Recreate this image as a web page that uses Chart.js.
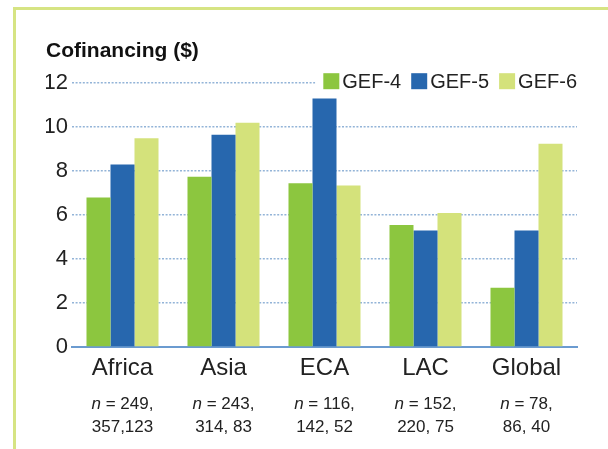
<!DOCTYPE html>
<html>
<head>
<meta charset="utf-8">
<script src="https://cdn.jsdelivr.net/npm/chart.js@4.4.0/dist/chart.umd.min.js"></script>
<style>
  html, body { margin: 0; padding: 0; background: #fff; }
  #wrap { position: relative; width: 608px; height: 449px; overflow: hidden; }
  #frame {
    position: absolute; left: 13px; top: 7px; right: -10px; bottom: -10px;
    border-top: 3px solid #d6e483; border-left: 3px solid #d6e483; background: #fff;
  }
  #chart { position: absolute; left: 0; top: 0; }
</style>
</head>
<body>
<div id="wrap">
  <div id="frame"></div>
  <canvas id="chart" width="608" height="449"></canvas>
</div>
<script>
// --- data ---
const regions = ['Africa', 'Asia', 'ECA', 'LAC', 'Global'];
const seriesNames = ['GEF-4', 'GEF-5', 'GEF-6'];
const gef4 = [6.8, 7.75, 7.45, 5.55, 2.7];
const gef5 = [8.3, 9.65, 11.3, 5.3, 5.3];
const gef6 = [9.5, 10.2, 7.35, 6.1, 9.25];
// sample sizes shown under each region (n = GEF-4, GEF-5, GEF-6)
const sampleLine1 = ['249,', '243,', '116,', '152,', '78,'];
const sampleLine2 = ['357,123', '314, 83', '142, 52', '220, 75', '86, 40'];
const yMin = 0, yMax = 12, yStep = 2;

const colors = ['#8cc63f', '#2767ae', '#d4e27b'];
const FONT = '"Liberation Sans", Arial, sans-serif';

// legend drawn inside the plot, with a white box that hides the top gridline
const legendBox = {
  id: 'legendBox',
  beforeDatasetsDraw(chart) {
    const { ctx, chartArea } = chart;
    ctx.save();
    ctx.font = '20px ' + FONT;
    ctx.textBaseline = 'middle';
    const y = chartArea.top - 2;
    const sq = 16, gap = 3, itemGap = 10;
    const items = chart.data.datasets.map(ds => ({
      text: ds.label, color: ds.backgroundColor, w: ctx.measureText(ds.label).width
    }));
    let total = 0;
    items.forEach((it, i) => { total += sq + gap + it.w + (i < items.length - 1 ? itemGap : 0); });
    let x = chartArea.right - total;
    ctx.fillStyle = '#fff';
    ctx.fillRect(x - 8, y - 12, total + 12, 24);
    items.forEach(it => {
      ctx.fillStyle = it.color;
      ctx.fillRect(x, y - sq / 2, sq, sq);
      ctx.fillStyle = '#222';
      ctx.textAlign = 'left';
      ctx.fillText(it.text, x + sq + gap, y + 1);
      x += sq + gap + it.w + itemGap;
    });
    ctx.restore();
  }
};

// "n = ..." lines under each category label
const sampleLabels = {
  id: 'sampleLabels',
  afterDraw(chart) {
    const { ctx, chartArea } = chart;
    const xs = chart.scales.x;
    ctx.save();
    ctx.fillStyle = '#222';
    ctx.textBaseline = 'alphabetic';
    ctx.textAlign = 'left';
    regions.forEach((r, i) => {
      const cx = xs.getPixelForValue(i);
      const y1 = chartArea.bottom + 61.5;
      const y2 = chartArea.bottom + 84.5;
      ctx.font = 'italic 17px ' + FONT;
      const wn = ctx.measureText('n').width;
      ctx.font = '17px ' + FONT;
      const rest = ' = ' + sampleLine1[i];
      const wr = ctx.measureText(rest).width;
      let x = cx - (wn + wr) / 2;
      ctx.font = 'italic 17px ' + FONT;
      ctx.fillText('n', x, y1);
      ctx.font = '17px ' + FONT;
      ctx.fillText(rest, x + wn, y1);
      ctx.textAlign = 'center';
      ctx.fillText(sampleLine2[i], cx, y2);
      ctx.textAlign = 'left';
    });
    ctx.restore();
  }
};

new Chart(document.getElementById('chart'), {
  type: 'bar',
  data: {
    labels: regions,
    datasets: [gef4, gef5, gef6].map((d, i) => ({
      label: seriesNames[i],
      data: d,
      backgroundColor: colors[i],
      borderWidth: 0,
      categoryPercentage: 0.713,
      barPercentage: 1.0
    }))
  },
  options: {
    responsive: false,
    animation: false,
    layout: { padding: { left: 46, right: 31, top: 0, bottom: 0 } },
    plugins: {
      legend: { display: false },
      tooltip: { enabled: false },
      title: {
        display: true,
        text: 'Cofinancing ($)',
        align: 'start',
        color: '#111',
        font: { family: FONT, size: 21, weight: 'bold' },
        padding: { top: 39, bottom: 19 }
      }
    },
    scales: {
      x: {
        grid: { display: false, drawTicks: false },
        border: { display: true, color: '#6b9bd0', width: 2 },
        ticks: { color: '#222', font: { family: FONT, size: 24 }, padding: 7 },
        afterFit(scale) { scale.height = 102; }
      },
      y: {
        min: yMin,
        max: yMax,
        grid: { color: '#93b4d8', lineWidth: 1.5, drawTicks: false },
        border: { display: false, dash: [2, 1.6] },
        ticks: { stepSize: yStep, color: '#222', font: { family: FONT, size: 22 }, padding: 4 },
        afterFit(scale) { scale.width = 26; }
      }
    }
  },
  plugins: [legendBox, sampleLabels]
});
</script>
</body>
</html>
